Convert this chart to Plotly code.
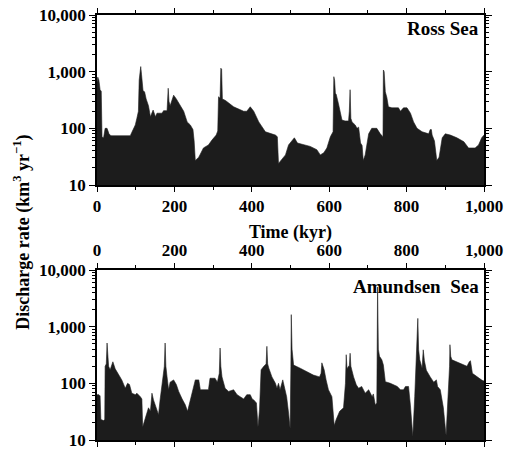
import plotly.graph_objects as go

# ---- Data ----
ross_kyr = [0, 2, 5, 8, 11, 13, 17, 21, 26, 31, 36, 43, 60, 75, 86, 90, 99, 103, 107, 109, 111, 113, 115, 117,
            119, 123, 127, 133, 138, 145, 151, 155, 168, 172, 181, 184, 186, 189, 198, 205, 213, 224, 233, 241,
            248, 251, 254, 263, 275, 288, 297, 308, 312, 314, 318, 320, 322, 324, 332, 353, 379, 387, 396, 405,
            418, 426, 435, 461, 466, 469, 478, 487, 495, 504, 510, 518, 534, 551, 568, 577, 586, 594, 603, 610,
            612, 614, 616, 618, 624, 633, 641, 650, 652, 654, 656, 659, 667, 672, 676, 681, 685, 688, 693, 702,
            710, 723, 732, 739, 740, 742, 745, 749, 753, 762, 779, 784, 792, 801, 810, 818, 827, 840, 857, 861,
            864, 866, 872, 878, 884, 892, 900, 913, 930, 948, 960, 977, 986, 994, 1000]
ross_rate = [650, 800, 700, 480, 450, 70, 68, 100, 100, 80, 74, 74, 73, 75, 74, 85, 115, 150, 200, 710, 1000, 1230,
             900, 480, 460, 440, 330, 250, 160, 210, 160, 185, 185, 205, 205, 510, 300, 250, 385, 330, 270, 200,
             130, 115, 95, 60, 27, 31, 45, 51, 62, 76, 90, 360, 340, 1150, 1100, 330, 310, 240, 200, 200, 240,
             200, 130, 107, 87, 76, 71, 24, 28, 34, 51, 62, 68, 55, 51, 48, 42, 34, 37, 45, 71, 87, 815, 700,
             415, 400, 270, 140, 135, 135, 200, 480, 150, 130, 115, 100, 105, 55, 50, 27, 34, 80, 100, 100, 80,
             71, 1070, 1000, 440, 350, 240, 230, 230, 200, 230, 230, 185, 130, 100, 87, 80, 95, 95, 76, 60, 27,
             31, 68, 80, 76, 68, 58, 45, 45, 51, 68, 76]

amund_kyr = [0, 5, 8, 10, 17, 20, 21, 24, 26, 28, 30, 34, 41, 47, 56, 64, 73, 79, 84, 90, 99, 103, 112, 116, 118,
             125, 133, 138, 142, 146, 153, 159, 163, 170, 174, 176, 178, 181, 185, 189, 198, 205, 211, 220, 228,
             234, 241, 250, 254, 263, 267, 288, 292, 305, 311, 316, 318, 320, 323, 331, 340, 353, 362, 370, 379,
             387, 396, 401, 405, 412, 416, 420, 424, 431, 437, 439, 441, 444, 452, 461, 465, 469, 473, 480, 486,
             490, 495, 499, 501, 502, 504, 508, 525, 542, 559, 575, 579, 581, 587, 592, 598, 607, 613, 618, 627,
             637, 642, 644, 646, 650, 652, 654, 656, 663, 670, 676, 684, 693, 702, 711, 714, 719, 723, 725, 727,
             730, 736, 740, 745, 758, 776, 784, 792, 797, 805, 810, 816, 821, 825, 828, 829, 831, 834, 840, 843,
             846, 851, 861, 870, 877, 880, 887, 895, 902, 908, 911, 912, 914, 917, 930, 948, 956, 962, 965, 970,
             982, 995, 1000]
amund_rate = [63, 63, 60, 23, 22, 23, 200, 220, 515, 250, 200, 173, 240, 180, 140, 115, 82, 100, 95, 67, 63, 67,
              58, 53, 17, 24, 37, 32, 67, 51, 37, 28, 51, 130, 200, 515, 200, 130, 77, 105, 115, 95, 72, 53, 42,
              32, 51, 90, 115, 115, 77, 77, 123, 123, 105, 150, 420, 200, 130, 82, 72, 77, 63, 58, 53, 63, 63, 53,
              51, 45, 17, 35, 173, 200, 220, 450, 220, 185, 130, 100, 82, 100, 77, 115, 72, 58, 30, 16, 200, 1630,
              400, 210, 185, 160, 140, 130, 150, 230, 173, 115, 77, 58, 18, 23, 32, 37, 100, 320, 180, 200, 200,
              340, 200, 130, 94, 82, 88, 67, 77, 58, 65, 42, 45, 5000, 400, 300, 260, 210, 107, 100, 88, 77, 77,
              88, 88, 40, 11.5, 58, 260, 600, 1400, 400, 260, 185, 390, 250, 170, 130, 105, 115, 88, 77, 37, 12,
              67, 200, 480, 300, 260, 240, 210, 200, 240, 250, 150, 130, 113, 110]

y_tickvals = [10, 100, 1000, 10000]
y_ticktext = ["10", "100", "1,000", "10,000"]

FILL = "#1c1c1c"
FONT = dict(family="Liberation Serif", size=17, color="black", weight="bold")

fig = go.Figure()
fig.add_trace(go.Scatter(x=ross_kyr, y=ross_rate, xaxis="x", yaxis="y", mode="lines",
                         line=dict(color=FILL, width=0.6), fill="tozeroy", fillcolor=FILL,
                         showlegend=False))
fig.add_trace(go.Scatter(x=amund_kyr, y=amund_rate, xaxis="x2", yaxis="y2", mode="lines",
                         line=dict(color=FILL, width=0.6), fill="tozeroy", fillcolor=FILL,
                         showlegend=False))

minor_y = [m * 10 ** e for e in (1, 2, 3) for m in range(2, 10)]

def xax(**kw):
    d = dict(range=[0, 1000], tickmode="linear", tick0=0, dtick=200, tickformat=",",
             ticks="outside", ticklen=5, tickwidth=1.2, tickcolor="black",
             minor=dict(tickmode="linear", tick0=0, dtick=100, ticks="outside", ticklen=3,
                        tickwidth=1, tickcolor="black", showgrid=False),
             showline=True, linecolor="black", linewidth=1.5, mirror="ticks",
             showgrid=False, zeroline=False, tickfont=FONT, automargin=False)
    d.update(kw)
    return d

def yax(**kw):
    d = dict(type="log", range=[1, 4], tickmode="array", tickvals=y_tickvals, ticktext=y_ticktext,
             ticks="outside", ticklen=6, tickwidth=1.2, tickcolor="black",
             minor=dict(tickmode="array", tickvals=minor_y, ticks="outside", ticklen=3,
                        tickwidth=1, tickcolor="black", showgrid=False),
             showline=True, linecolor="black", linewidth=1.5, mirror="ticks",
             showgrid=False, zeroline=False, tickfont=FONT, automargin=False)
    d.update(kw)
    return d

fig.update_layout(
    width=508, height=451,
    margin=dict(l=97, r=24, t=15, b=11),
    paper_bgcolor="white", plot_bgcolor="white",
    xaxis=xax(domain=[0, 1], anchor="y", side="bottom",
              title=dict(text="Time (kyr)", font=dict(family="Liberation Serif", size=18,
                                                       color="black", weight="bold"), standoff=10)),
    yaxis=yax(domain=[0.6, 1], anchor="x"),
    xaxis2=xax(domain=[0, 1], anchor="y2", side="top"),
    yaxis2=yax(domain=[0, 0.4], anchor="x2"),
    annotations=[
        dict(text="Ross Sea", xref="x domain", yref="y domain", x=0.993, y=0.92,
             xanchor="right", yanchor="middle", showarrow=False,
             font=dict(family="Liberation Serif", size=19, color="black", weight="bold")),
        dict(text="Amundsen  Sea", xref="x2 domain", yref="y2 domain", x=0.993, y=0.905,
             xanchor="right", yanchor="middle", showarrow=False,
             font=dict(family="Liberation Serif", size=19, color="black", weight="bold")),
        dict(text="Discharge rate (km<sup>3</sup> yr<sup>\u22121</sup>)", xref="paper", yref="paper",
             x=-0.194, y=0.49, xanchor="center", yanchor="middle", textangle=-90, showarrow=False,
             font=dict(family="Liberation Serif", size=18, color="black", weight="bold")),
    ],
)

fig.write_html("out.html")
